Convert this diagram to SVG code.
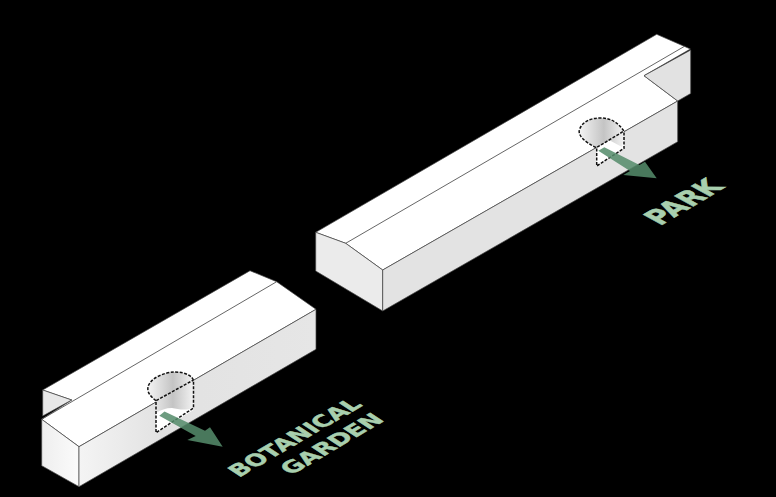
<svg xmlns="http://www.w3.org/2000/svg" width="776" height="497" viewBox="0 0 776 497">
<style>
.e{stroke:#444;stroke-width:.7;stroke-linejoin:round}
.l{fill:none;stroke:#555;stroke-width:.9}
.d{fill:none;stroke:#111;stroke-width:1.5;stroke-dasharray:3 1.5}
.a{fill:#558c6b;fill-opacity:.86}
.t{font-family:"DejaVu Sans",sans-serif;font-weight:700;font-size:20px;fill:#a8cfae;stroke:#a8cfae;stroke-width:.5}
</style>
<defs>
<linearGradient id="fl" x1="0" y1="0" x2="1" y2="0"><stop offset="0" stop-color="#eeeeee"/><stop offset="1" stop-color="#fbfbfb"/></linearGradient>
<linearGradient id="fr" x1="0" y1="0" x2="1" y2="0"><stop offset="0" stop-color="#f4f4f4"/><stop offset=".35" stop-color="#e2e2e2"/><stop offset="1" stop-color="#e6e6e6"/></linearGradient>
<linearGradient id="h" x1="0" y1="0" x2="1" y2="0"><stop offset="0" stop-color="#f4f4f4"/><stop offset=".55" stop-color="#c4c4c4"/><stop offset="1" stop-color="#f2f2f2"/></linearGradient>
</defs>
<rect width="776" height="497" fill="#000"/>
<g id="building-left">
<path class="e" fill="#fff" d="M42.7,390 L250,270.7 L276.7,281.7 L316,309.3 L79,446.7 L41.7,419.3 L71.7,400 Z"/>
<path class="e" fill="#e8e8e8" d="M42.7,390 L71.7,400 L42.7,416 Z"/>
<path class="e" fill="url(#fl)" d="M41.7,419.3 L79,446.7 V486.7 L41.7,465.7 Z"/>
<path class="e" fill="url(#fr)" d="M79,446.7 L316,309.3 V349.3 L79,486.7 Z"/>
<path class="l" d="M41.7,419.3 L276.7,281.7"/>
</g>
<g id="building-right">
<path class="e" fill="#fff" d="M315.7,232.3 L656.7,34.3 L690.4,49 L644,75.7 L677.7,101 L382.7,270 L345.7,243.3 Z"/>
<path class="e" fill="#e2e2e2" d="M644,75.7 L690.7,50 V93.5 L677.7,101 Z"/>
<path class="e" fill="#ebebeb" d="M315.7,232.3 L345.7,243.3 L382.7,270 V311 L315.7,271 Z"/>
<path class="e" fill="#e3e3e3" d="M382.7,270 L677.7,101 V141.7 L382.7,311 Z"/>
<path class="l" d="M345.7,243.3 L685,46"/>
</g>
<g id="opening-left">
<path fill="#fff" d="M156,400.7 L193.5,379 V410 L156,433 Z"/>
<path fill="url(#h)" d="M156,400.7 C150,396 147,392 148,387 C150,378 165,372 175,372 C185,372 193,376 193.5,381 V408 C185,411 178,409 172,408 C166,408 160,410 156,413 Z"/>
<path class="d" d="M156,400.7 C150,396 147,392 148,387 C150,378 165,372 175,372 C185,372 193,376 193.5,381 V408 L156,432.7 V400.7 L193.5,380"/>
</g>
<g id="opening-right">
<path fill="#fff" d="M596.7,147.5 L624,131.5 V148.3 L596.7,166 Z"/>
<path fill="url(#h)" d="M596,147.5 C585,142 578,136 579.3,130 C582,122 590,118 600,118 C612,118 618,123 624,131 L624,138 L622,147 L609,140 L597,147.5 Z"/>
<path class="d" d="M596,147.5 C585,142 578,136 579.3,130 C582,122 590,118 600,118 C612,118 618,123 624,131 V148.3 L596.7,166 V147.5 L624,131"/>
</g>
<g id="connectors">
<path class="a" d="M159.3,415.7 L164.5,411.5 L205,430.7 L210,427.3 L222.7,446.7 L187.3,440 L195.7,436 Z"/>
<path class="a" d="M598.3,150.7 L604.3,147.3 L639.5,165 L645,161.7 L656.7,178.3 L623.3,175 L630,171 Z"/>
</g>
<g id="labels">
<text class="t" transform="matrix(.98,-.57,.91,.6,239,477.7)">BOTANICAL</text>
<text class="t" transform="matrix(1,-.585,.91,.6,291,475.5)">GARDEN</text>
<text class="t" transform="matrix(1.1,-.65,1.3,.7,660,226)">PARK</text>
</g>
</svg>
